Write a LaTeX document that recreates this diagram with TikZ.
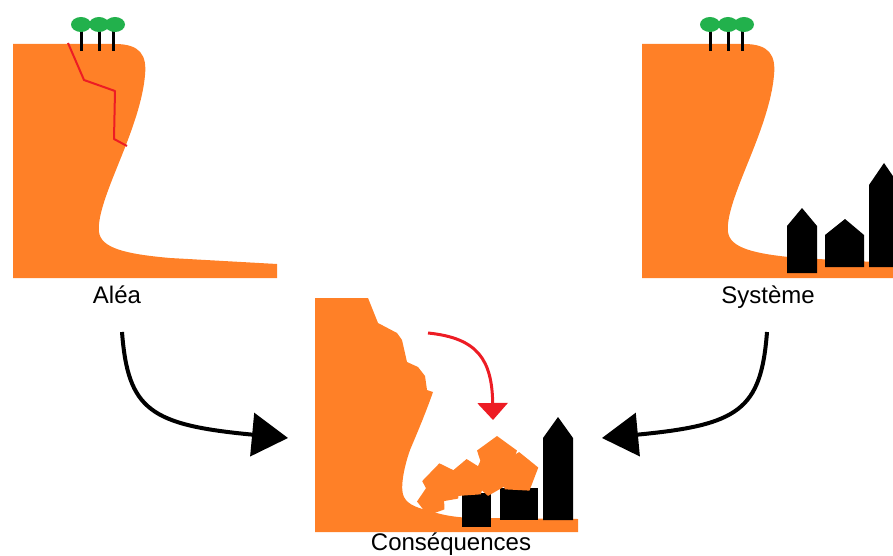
\documentclass[tikz,border=0pt]{standalone}
\usepackage{fontspec}
\setmainfont{Liberation Sans}
\usetikzlibrary{arrows.meta}
\definecolor{cliff}{RGB}{255,128,39}
\definecolor{leaf}{RGB}{34,177,76}
\definecolor{alarm}{RGB}{237,28,36}
\tikzset{
  ground/.style={fill=cliff,draw=none},
  trunk/.style={draw=black,line width=3pt},
  crown/.style={fill=leaf,draw=none},
  building/.style={fill=black,draw=none},
  lbl/.style={font=\fontsize{24}{28}\selectfont,inner sep=0pt,anchor=base},
  link/.style={draw=black,line width=4pt,-{Triangle[length=36pt,width=43pt]}},
  fall/.style={draw=alarm,line width=3pt,-{Triangle[length=17pt,width=30pt]}}
}
% pentagonal boulder: centre x, centre y, circumradius, tilt
\newcommand{\boulder}[4]{%
  \fill[ground,shift={(#1,#2)},rotate=#4] (-90:#3) -- (-18:#3) -- (54:#3) -- (126:#3) -- (198:#3) -- cycle;}
\begin{document}
\begin{tikzpicture}[x=1pt,y=-1pt]
\useasboundingbox (0,0) rectangle (893,556);
\clip (0,0) rectangle (893,556);

% --- Aléa: cliff with crack and trees
\fill[ground] (13,44) -- (115,44) .. controls (140,44) and (147,55) .. (145,75)
  .. controls (143,100) and (132,130) .. (122,155)
  .. controls (110,185) and (97,215) .. (99,232)
  .. controls (101,248) and (125,254) .. (170,258)
  -- (277,264) -- (277,278) -- (13,278) -- cycle;
\draw[alarm,line width=2pt,line join=round] (68,43) -- (84,80) -- (115,91) -- (114,139) -- (127,146);
\foreach \tx in {81,99,113} \draw[trunk] (\tx,30) -- (\tx,51);
\foreach \cx in {81,99,115} \fill[crown] (\cx,24.5) ellipse [x radius=10, y radius=7.5];
\node[lbl] (alea) at (117,303) {Aléa};

% --- Système: same cliff with houses at its foot
\fill[ground] (642,44) -- (744,44) .. controls (769,44) and (776,55) .. (774,75)
  .. controls (772,100) and (761,130) .. (751,155)
  .. controls (739,185) and (726,215) .. (728,232)
  .. controls (730,248) and (754,254) .. (799,258)
  -- (893,263) -- (893,278) -- (642,278) -- cycle;
\foreach \tx in {710,728,742} \draw[trunk] (\tx,30) -- (\tx,51);
\foreach \cx in {710,728,744} \fill[crown] (\cx,24.5) ellipse [x radius=10, y radius=7.5];
\fill[building] (787,273) -- (787,226) -- (802,208) -- (817,226) -- (817,273) -- cycle;
\fill[building] (825,267) -- (825,235) -- (845,219) -- (864,235) -- (864,267) -- cycle;
\fill[building] (869,267) -- (869,185) -- (884,163) -- (899,185) -- (899,267) -- cycle;
\node[lbl] (systeme) at (768,303) {Système};

% --- Conséquences: broken cliff, fallen rocks on the houses
\fill[ground] (315,298) -- (368,298) -- (378,323) -- (397,333) -- (402,340)
  -- (407,362) -- (418,367) -- (425,376) -- (427,390) -- (433,392)
  .. controls (425,415) and (415,438) .. (410,450)
  .. controls (403,470) and (400,490) .. (404,497)
  .. controls (408,505) and (418,508) .. (430,511)
  .. controls (445,516) and (460,518) .. (480,518)
  -- (578,519) -- (578,532) -- (315,532) -- cycle;
\fill[building] (462,493) rectangle (491,527);
\fill[building] (500,488) rectangle (538,520);
\fill[building] (543,520) -- (543,438) -- (558,417) -- (573,438) -- (573,520) -- cycle;
\boulder{432}{501}{15}{20}
\boulder{443}{484}{21}{10}
\boulder{490}{477}{19}{30}
\boulder{468}{479}{20}{4}
\boulder{518}{473}{21}{-3}
\boulder{497}{457}{21}{0}
\coordinate (fallstart) at (428,333);
\coordinate (fallend) at (493,420);
\draw[fall] (fallstart) .. controls (478,338) and (492,360) .. (fallend);
\node[lbl] (consequences) at (451,550.5) {Conséquences};

% --- links from both factors to the consequences
\coordinate (aleaout) at (122,332);
\coordinate (consleft) at (288,438);
\coordinate (systemeout) at (767,332);
\coordinate (consright) at (602,438);
\draw[link] (aleaout) .. controls (128,410) and (150,425) .. (consleft);
\draw[link] (systemeout) .. controls (761,410) and (739,425) .. (consright);
\end{tikzpicture}
\end{document}
